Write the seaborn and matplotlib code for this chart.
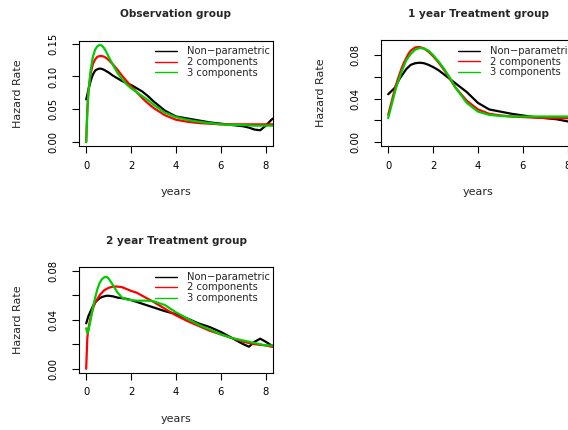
import numpy as np
import pandas as pd
import matplotlib
matplotlib.use("Agg")
import matplotlib.pyplot as plt
import seaborn as sns

# ---------------- data ----------------
years = [0, 0.05, 0.1, 0.2, 0.3, 0.4, 0.5, 0.6, 0.7, 0.8, 0.9, 1.0, 1.2, 1.4, 1.6, 1.8,
         2.0, 2.25, 2.5, 2.75, 3.0, 3.5, 4.0, 4.5, 5.0, 5.5, 6.0, 6.5, 7.0, 7.25, 7.5,
         7.75, 8.0, 8.25, 8.5]

obs_nonpar = [0.065, 0.072, 0.080, 0.093, 0.103, 0.109, 0.111, 0.112, 0.1115, 0.110, 0.108,
              0.106, 0.101, 0.097, 0.093, 0.090, 0.087, 0.082, 0.077, 0.070, 0.062, 0.048,
              0.039, 0.036, 0.033, 0.030, 0.028, 0.026, 0.024, 0.022, 0.019, 0.018, 0.025,
              0.034, 0.040]
obs_comp2 = [0.0, 0.050, 0.078, 0.105, 0.119, 0.126, 0.130, 0.131, 0.131, 0.130, 0.128,
             0.125, 0.118, 0.110, 0.101, 0.093, 0.085, 0.076, 0.067, 0.059, 0.052, 0.041,
             0.034, 0.031, 0.029, 0.028, 0.027, 0.027, 0.027, 0.027, 0.027, 0.027, 0.027,
             0.027, 0.027]
obs_comp3 = [0.0, 0.045, 0.075, 0.110, 0.130, 0.141, 0.146, 0.148, 0.147, 0.143, 0.137,
             0.130, 0.117, 0.105, 0.096, 0.088, 0.082, 0.076, 0.070, 0.064, 0.057, 0.045,
             0.038, 0.034, 0.031, 0.029, 0.027, 0.026, 0.026, 0.0255, 0.025, 0.025, 0.025,
             0.025, 0.025]

t1_nonpar = [0.044, 0.045, 0.046, 0.048, 0.050, 0.054, 0.058, 0.061, 0.064, 0.067, 0.069,
             0.071, 0.0725, 0.073, 0.0725, 0.071, 0.069, 0.066, 0.062, 0.058, 0.054, 0.046,
             0.036, 0.030, 0.028, 0.026, 0.0245, 0.023, 0.022, 0.0215, 0.021, 0.020, 0.019,
             0.018, 0.017]
t1_comp2 = [0.025, 0.029, 0.033, 0.041, 0.049, 0.056, 0.062, 0.068, 0.073, 0.077, 0.081,
            0.084, 0.087, 0.0875, 0.086, 0.083, 0.079, 0.073, 0.066, 0.058, 0.050, 0.038,
            0.030, 0.026, 0.0245, 0.0235, 0.023, 0.0225, 0.0222, 0.022, 0.022, 0.022, 0.022,
            0.022, 0.022]
t1_comp3 = [0.022, 0.026, 0.030, 0.038, 0.046, 0.053, 0.059, 0.065, 0.070, 0.075, 0.078,
            0.081, 0.085, 0.0865, 0.086, 0.084, 0.080, 0.074, 0.067, 0.059, 0.050, 0.036,
            0.028, 0.025, 0.024, 0.0235, 0.0235, 0.0235, 0.0235, 0.0235, 0.0235, 0.0235,
            0.0235, 0.0235, 0.0235]

t2_nonpar = [0.037, 0.040, 0.043, 0.047, 0.051, 0.054, 0.056, 0.0575, 0.0585, 0.059, 0.0595,
             0.0595, 0.059, 0.058, 0.0575, 0.057, 0.056, 0.0545, 0.053, 0.0515, 0.050, 0.047,
             0.0445, 0.041, 0.037, 0.034, 0.030, 0.025, 0.020, 0.018, 0.022, 0.0245, 0.022,
             0.019, 0.018]
t2_comp2 = [0.0, 0.025, 0.033, 0.042, 0.049, 0.054, 0.057, 0.060, 0.062, 0.064, 0.065,
            0.066, 0.067, 0.067, 0.0665, 0.065, 0.0635, 0.062, 0.0595, 0.057, 0.0545, 0.049,
            0.0435, 0.039, 0.035, 0.031, 0.028, 0.025, 0.022, 0.021, 0.020, 0.0195, 0.019,
            0.018, 0.0175]
t2_comp3 = [0.033, 0.029, 0.031, 0.040, 0.050, 0.058, 0.065, 0.070, 0.073, 0.0745, 0.075,
            0.0735, 0.068, 0.062, 0.058, 0.0565, 0.056, 0.0555, 0.0555, 0.0555, 0.055, 0.052,
            0.046, 0.041, 0.036, 0.032, 0.028, 0.025, 0.023, 0.022, 0.021, 0.020, 0.019,
            0.019, 0.019]

series_names = ["Non\u2212parametric", "2 components", "3 components"]
series_colors = ["#000000", "#FF0000", "#00CD00"]
titles = ["Observation group", "1 year Treatment group", "2 year Treatment group"]

panels = [
    (titles[0], [obs_nonpar, obs_comp2, obs_comp3]),
    (titles[1], [t1_nonpar, t1_comp2, t1_comp3]),
    (titles[2], [t2_nonpar, t2_comp2, t2_comp3]),
]

ytick_sets = [
    ([0.0, 0.05, 0.10, 0.15], ["0.00", "0.05", "0.10", "0.15"]),
    ([0.0, 0.02, 0.04, 0.06, 0.08], ["0.00", "", "0.04", "", "0.08"]),
    ([0.0, 0.02, 0.04, 0.06, 0.08], ["0.00", "", "0.04", "", "0.08"]),
]
xticks = [0, 2, 4, 6, 8]
xtick_labels = ["0", "2", "4", "6", "8"]

# ---------------- styling ----------------
sns.set_style("ticks")
plt.rcParams["font.family"] = ["DejaVu Sans"]

W, H = 568, 430
fig = plt.figure(figsize=(W / 100, H / 100), dpi=100)

# axes boxes in pixel coordinates: (left, top, right, bottom)
boxes = [(79, 41, 273, 146), (381, 40.3, 575, 146), (79, 266.7, 273, 372.7)]
ylims = [(-0.006, 0.154), (-0.0036, 0.0936), (-0.0032, 0.0832)]
title_y = [14, 14, 240.7]
years_y = [192, 192, 419]
hazard_x = [18, 320.7, 18]
legend_anchor = [(155, 46.5), (458, 46.3), (155, 272)]

for i, (title, ys) in enumerate(panels):
    l, t, r, b = boxes[i]
    ax = fig.add_axes([l / W, 1 - b / H, (r - l) / W, (b - t) / H])
    df = pd.DataFrame({
        "years": np.tile(years, 3),
        "hazard": np.concatenate(ys),
        "series": np.repeat(series_names, len(years)),
    })
    sns.lineplot(data=df, x="years", y="hazard", hue="series",
                 hue_order=series_names, palette=series_colors,
                 linewidth=1.6, ax=ax, legend=True, sort=False)
    ax.set_xlim(-0.32, 8.32)
    ax.set_ylim(*ylims[i])
    ax.set_xticks(xticks)
    ax.set_xticklabels(xtick_labels)
    ax.set_yticks(ytick_sets[i][0])
    ax.set_yticklabels(ytick_sets[i][1], rotation=90, va="center")
    ax.tick_params(axis="both", direction="out", length=5, width=0.8,
                   labelsize=7.2, colors="black")
    ax.tick_params(axis="x", pad=5.5)
    ax.tick_params(axis="y", pad=9.5)
    for s in ax.spines.values():
        s.set_visible(True)
        s.set_linewidth(0.8)
        s.set_color("black")
    ax.set_xlabel("")
    ax.set_ylabel("")
    lx, ly = legend_anchor[i]
    leg = ax.legend(loc="upper left", bbox_to_anchor=(lx / W, 1 - ly / H),
                    bbox_transform=fig.transFigure, frameon=False,
                    fontsize=7.2, handlelength=2.2, handletextpad=1.0,
                    labelspacing=0.05, borderpad=0, borderaxespad=0)
    for line in leg.get_lines():
        line.set_linewidth(1.0)

    cx = (l + r) / 2
    fig.text(cx / W, 1 - title_y[i] / H, title, ha="center", va="center",
             fontsize=7.6, fontweight="bold")
    fig.text(cx / W, 1 - years_y[i] / H, "years", ha="center", va="center",
             fontsize=8)
    fig.text(hazard_x[i] / W, 1 - ((t + b) / 2) / H, "Hazard Rate", ha="center",
             va="center", rotation=90, fontsize=8)

fig.savefig("out.png", dpi=100)
